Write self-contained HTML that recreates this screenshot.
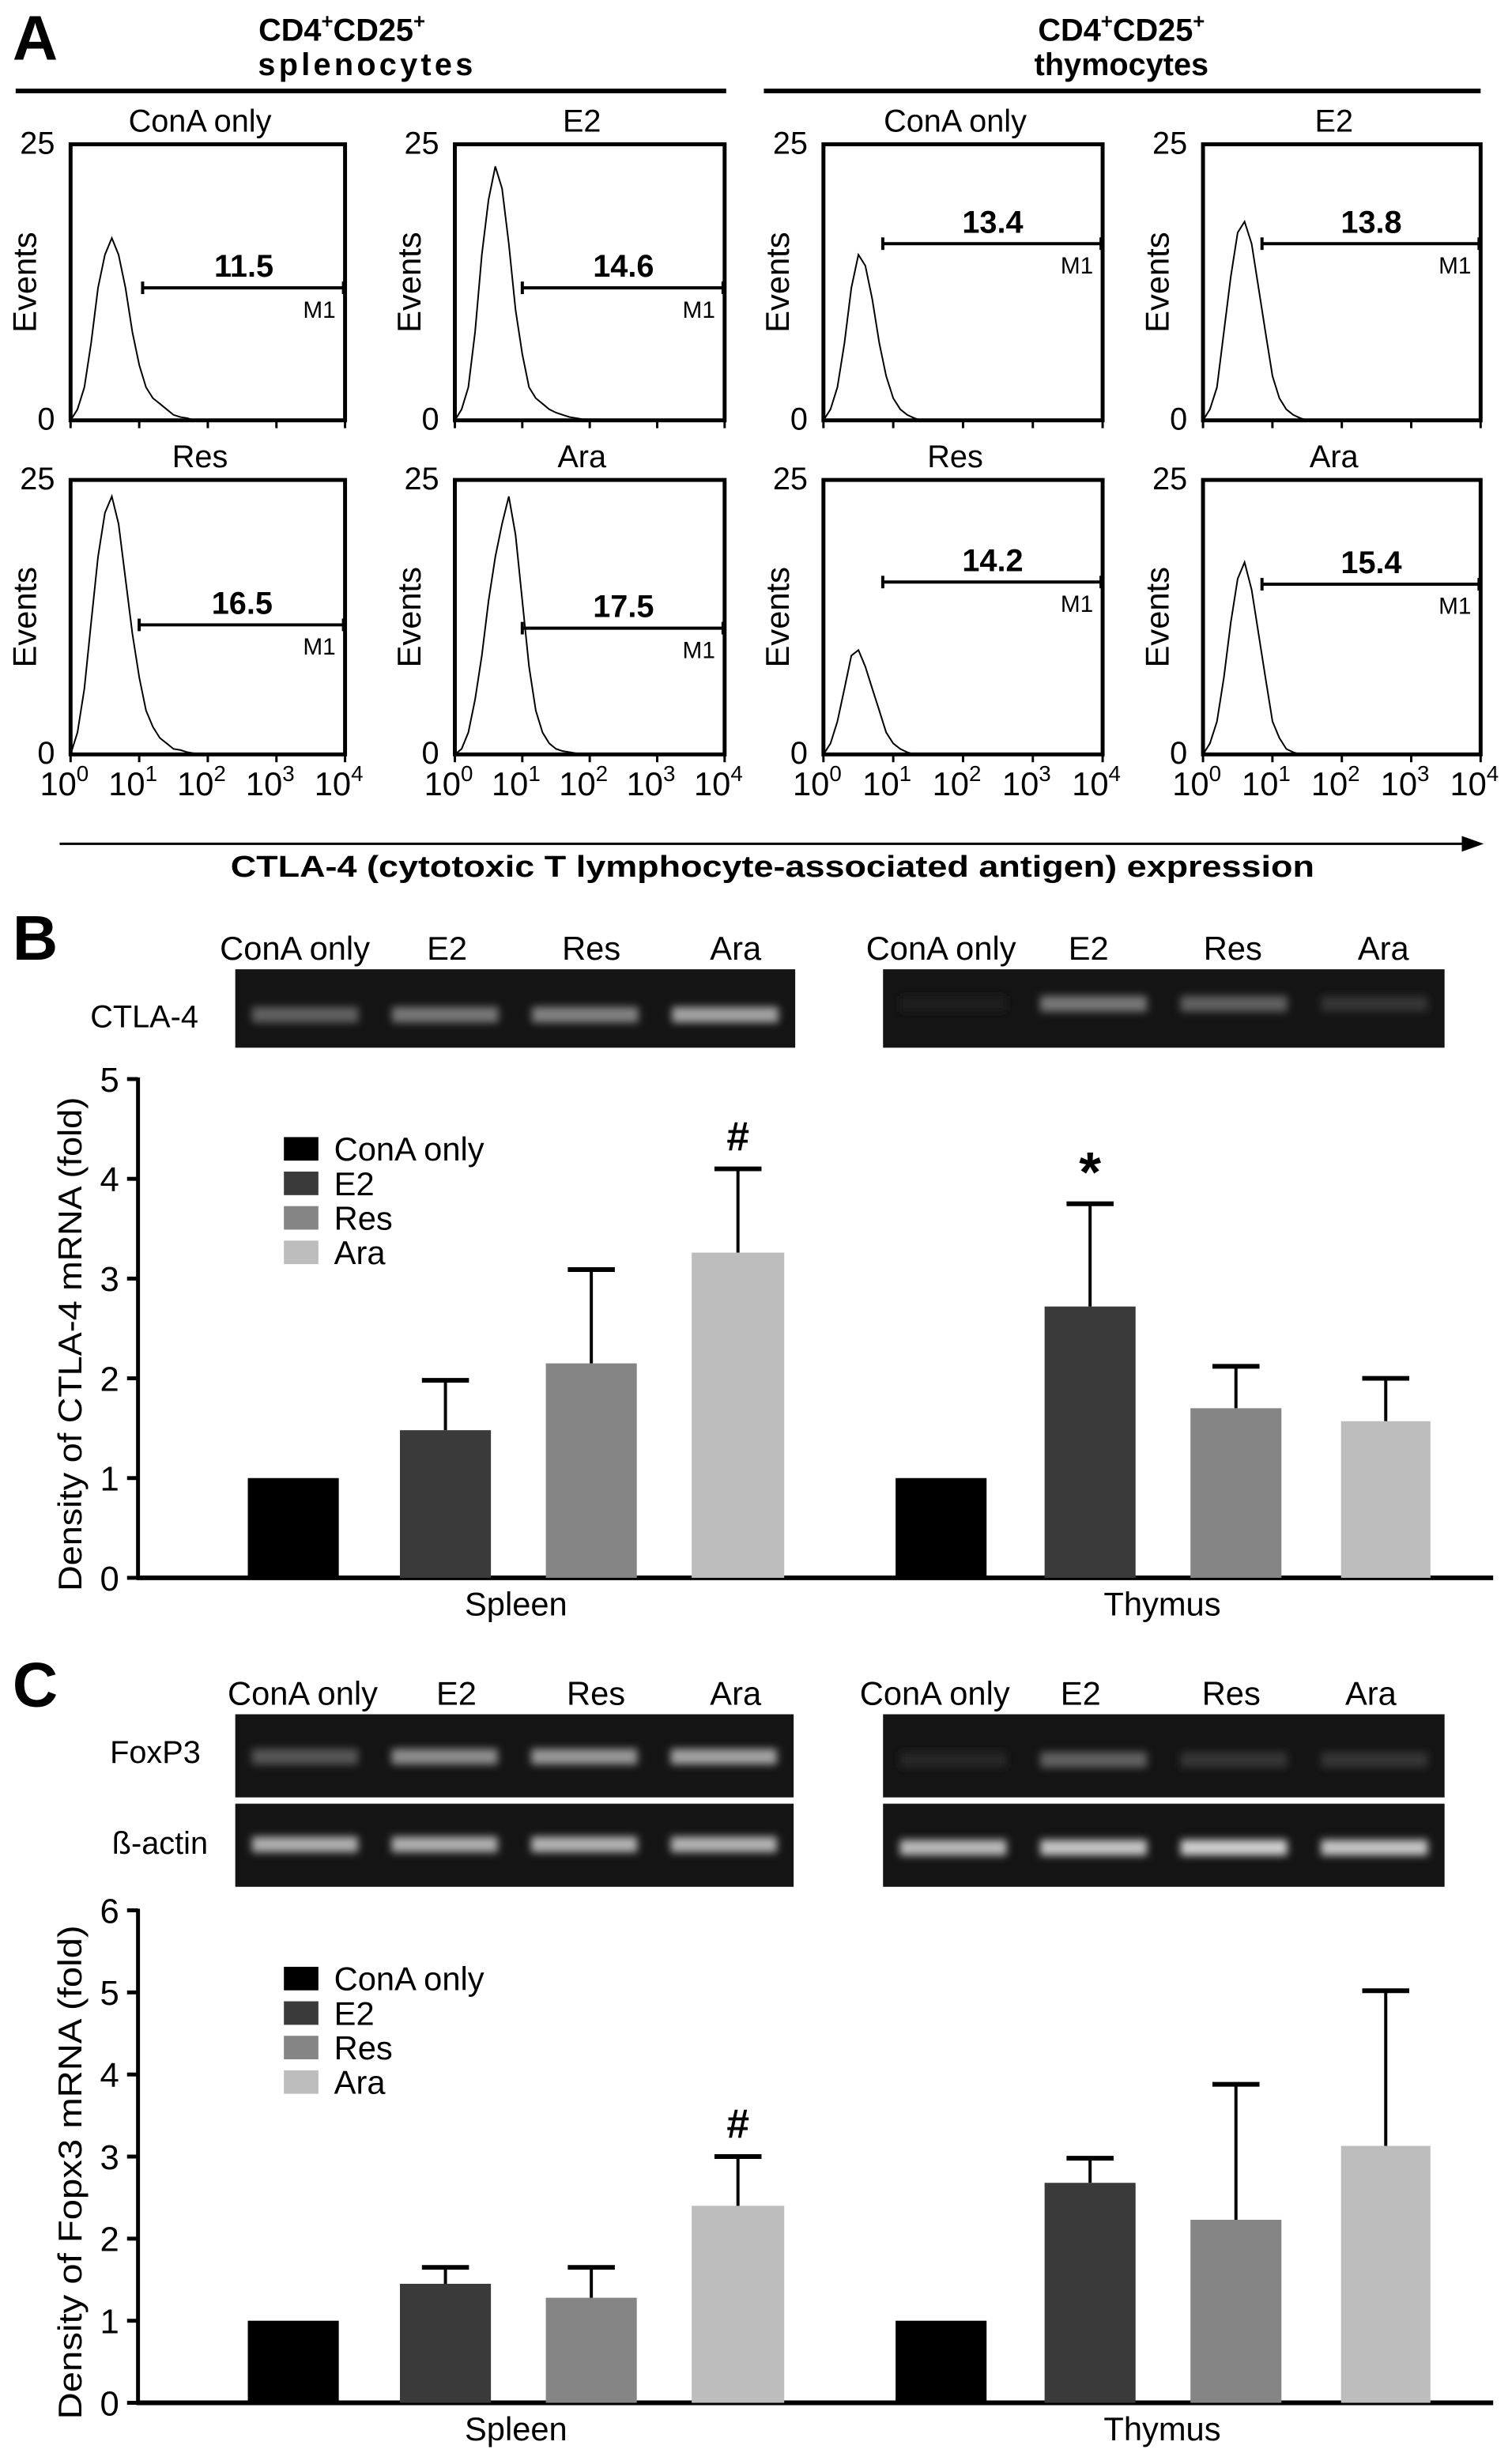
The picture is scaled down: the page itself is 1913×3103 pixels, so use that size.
<!DOCTYPE html>
<html><head><meta charset="utf-8">
<style>
html,body{margin:0;padding:0;background:#fff;}
svg{display:block;}
text{font-family:"Liberation Sans",sans-serif;fill:#000;}
.b{font-family:"Liberation Sans",sans-serif;font-weight:bold;}
.w{font-family:"Liberation Sans",sans-serif;}
</style></head>
<body>
<svg id="fig" width="1913" height="3103" viewBox="0 0 964 1564" preserveAspectRatio="none" xmlns="http://www.w3.org/2000/svg">
<defs>
<filter id="blur" x="-50%" y="-50%" width="200%" height="200%"><feGaussianBlur stdDeviation="2.5"/></filter>
</defs>
<text class="b" x="8" y="38" font-size="40">A</text>
<text class="b" x="218" y="26" font-size="20" text-anchor="middle">CD4<tspan font-size="13" dy="-8">+</tspan><tspan dy="8">CD25</tspan><tspan font-size="13" dy="-8">+</tspan></text>
<text class="b" x="233" y="48" font-size="20" text-anchor="middle" textLength="137">splenocytes</text>
<line x1="10" y1="58" x2="463" y2="58" stroke="#000" stroke-width="3"/>
<text class="b" x="715" y="26" font-size="20" text-anchor="middle">CD4<tspan font-size="13" dy="-8">+</tspan><tspan dy="8">CD25</tspan><tspan font-size="13" dy="-8">+</tspan></text>
<text class="b" x="715" y="48" font-size="20" text-anchor="middle">thymocytes</text>
<line x1="487" y1="58" x2="944" y2="58" stroke="#000" stroke-width="3"/>
<g id="hists"></g>
<line x1="38" y1="538" x2="935" y2="538" stroke="#000" stroke-width="1.5"/>
<polygon points="946,538 932,533 932,543" fill="#000"/>
<text class="b" x="147" y="559" font-size="19" textLength="691" lengthAdjust="spacingAndGlyphs">CTLA-4 (cytotoxic T lymphocyte-associated antigen) expression</text>

<text class="b" x="8" y="612" font-size="40">B</text>
<g id="gelB"></g>
<g id="chartB"></g>
<text class="b" x="8" y="1088" font-size="40">C</text>
<g id="gelC"></g>
<g id="chartC"></g>
</svg>
<script>
// ---------- Panel A histogram data (events at log10 positions 0..2 step 0.1) ----------
const histTitles = ["ConA only","E2","Res","Ara","ConA only","E2","Res","Ara"];
const histPercent = ["11.5","14.6","16.5","17.5","13.4","13.8","14.2","15.4"];
const histSpleenCon = [0,1,3,7,12,15,16.5,15,12,8,5,3,2,1.5,1,0.5,0.3,0.2,0,0,0];
const histSpleenE2  = [0,1,3,8,15,20,23,21,16,10,6,3,2,1.5,1,0.7,0.5,0.3,0.2,0.1,0.1];
const histSpleenRes = [0,2,6,12,18,22,23.5,21,16,11,7,4,2.5,1.5,1,0.5,0.4,0.2,0.1,0,0];
const histSpleenAra = [0,0.5,2,5,9,14,18,21,23.5,20,14,8,4,2,1,0.5,0.3,0.2,0.1,0,0];
const histThyCon = [0,1,3,7,12,15,14,11,7,4,2,1,0.5,0.2,0,0,0,0,0,0,0];
const histThyE2  = [0,1,3,8,13,17,18,16,12,8,4,2,1,0.5,0.2,0,0,0,0,0,0];
const histThyRes = [0,1,3,6,9,9.5,8,6,4,2,1,0.5,0.2,0,0,0,0,0,0,0,0];
const histThyAra = [0,1,3,7,12,16,17.5,15,11,7,3,1.5,0.5,0.2,0,0,0,0,0,0,0];
const gateStartLog = [1.05,1.0,1.0,1.0,0.85,0.85,0.85,0.85];
const gateLevel = [12,12,11.8,11.5,16,16,15.7,15.5];

// ---------- Panel B / C bar data ----------
const groups = ["Spleen","Thymus"];
const treatments = ["ConA only","E2","Res","Ara"];
const ctlaSpleen = [1,1.48,2.15,3.26];
const ctlaSpleenErr = [0,0.5,0.94,0.84];
const ctlaThymus = [1,2.72,1.7,1.57];
const ctlaThymusErr = [0,1.03,0.42,0.43];
const foxSpleen = [1,1.45,1.28,2.4];
const foxSpleenErr = [0,0.2,0.37,0.6];
const foxThymus = [1,2.68,2.23,3.13];
const foxThymusErr = [0,0.3,1.65,1.89];
const ctlaTicks = [0,1,2,3,4,5];
const foxTicks = [0,1,2,3,4,5,6];
const gelCtlaSpleen = [0.35,0.45,0.5,0.65];
const gelCtlaThymus = [0.05,0.45,0.35,0.15];
const gelFoxSpleen = [0.3,0.55,0.6,0.65];
const gelFoxThymus = [0.08,0.35,0.15,0.15];
const gelActSpleen = [0.7,0.7,0.72,0.72];
const gelActThymus = [0.75,0.8,0.85,0.8];

const NS="http://www.w3.org/2000/svg";
function mk(tag, attrs, parent){const e=document.createElementNS(NS,tag);for(const k in attrs)e.setAttribute(k,attrs[k]);if(parent)parent.appendChild(e);return e;}

// ---------- Histograms ----------
const hg=document.getElementById('hists');
const histData=[histSpleenCon,histSpleenE2,histSpleenRes,histSpleenAra,histThyCon,histThyE2,histThyRes,histThyAra];
const boxX=[[45,220],[290,462],[525,703],[767,944]];
const boxY=[[92,268],[306,481]];
const order=[[0,0,0],[1,1,0],[2,0,1],[3,1,1],[4,2,0],[5,3,0],[6,2,1],[7,3,1]];
order.forEach(([i,c,r])=>{
  const [x0,x1]=boxX[c],[y0,y1]=boxY[r];
  const xs=l=>x0+(x1-x0)*l/4, ys=v=>y1-(y1-y0)*v/25;
  const g=mk('g',{},hg);
  
  
  const box=mk('rect',{x:x0,y:y0,width:x1-x0,height:y1-y0,fill:'none',stroke:'#000','stroke-width':2.5},g);
  
  
  const t=mk('text',{x:(x0+x1)/2-5,y:y0-8,'font-size':20,'text-anchor':'middle',class:'w'},g);t.textContent=histTitles[i];
  
  
  const t25=mk('text',{x:x0-10,y:y0+6,'font-size':20,'text-anchor':'end',class:'w'},g);t25.textContent='25';
  
  
  const t0=mk('text',{x:x0-10,y:y1+6,'font-size':20,'text-anchor':'end',class:'w'},g);t0.textContent='0';
  
  
  const ev=mk('text',{x:0,y:0,'font-size':21,'text-anchor':'middle',class:'w',transform:`translate(${x0-22},${(y0+y1)/2}) rotate(-90)`},g);ev.textContent='Events';
  
  
  for(let d=0;d<=4;d++){mk('line',{x1:xs(d),x2:xs(d),y1:y1,y2:y1+5,stroke:'#000','stroke-width':1.5},g);}
  if(r===1){for(let d=0;d<=4;d++){const tl=mk('text',{x:xs(d)-4,y:y1+26,'font-size':21,'text-anchor':'middle',class:'w'},g);tl.innerHTML='10<tspan font-size="14" dy="-9">'+d+'</tspan>';
    
    }}
  const d=histData[i];
  let p='M'+xs(0)+','+y1;
  d.forEach((v,k)=>{p+=' L'+xs(k*0.1).toFixed(1)+','+ys(v).toFixed(1);});
  p+=' L'+xs(4)+','+y1;
  const path=mk('path',{d:p,fill:'none',stroke:'#000','stroke-width':1},g);
  
  
  const gx=xs(gateStartLog[i]),gy=ys(gateLevel[i]);
  mk('line',{x1:gx,x2:x1,y1:gy,y2:gy,stroke:'#000','stroke-width':2},g);
  mk('line',{x1:gx,x2:gx,y1:gy-4,y2:gy+4,stroke:'#000','stroke-width':2},g);
  mk('line',{x1:x1-1,x2:x1-1,y1:gy-4,y2:gy+4,stroke:'#000','stroke-width':2},g);
  const pv=mk('text',{x:(gx+x1)/2,y:gy-7,'font-size':20,'text-anchor':'middle',class:'b'},g);pv.textContent=histPercent[i];
  
  
  const m1=mk('text',{x:x1-6,y:gy+19,'font-size':15,'text-anchor':'end',class:'w'},g);m1.textContent='M1';
  
  
});

// ---------- Gels ----------
function gel(parent,x0,x1,y0,y1,ints,bandY,name){
  const g=mk('g',{},parent);
  
  
  mk('rect',{x:x0,y:y0,width:x1-x0,height:y1-y0,fill:'#141414'},g);
  const lw=(x1-x0)/4;
  ints.forEach((v,k)=>{const c=Math.round(20+v*220);
    mk('rect',{x:x0+lw*k+lw*0.12,y:bandY-5,width:lw*0.76,height:10,fill:`rgb(${c},${c},${c})`,filter:'url(#blur)'},g);});
}
function laneLabels(parent,xs,y,prefix){xs.forEach((x,k)=>{const t=mk('text',{x:x,y:y,'font-size':21,'text-anchor':'middle',class:'w'},parent);t.textContent=treatments[k];
  
  });}
const gB=document.getElementById('gelB');
laneLabels(gB,[188,285,377,469],612,'spleen');
laneLabels(gB,[600,694,786,882],612,'thymus');
gel(gB,150,507,618,668,gelCtlaSpleen,647,'ctla4-gel-spleen');
gel(gB,563,921,618,668,gelCtlaThymus,640,'ctla4-gel-thymus');
{const t=mk('text',{x:92,y:655,'font-size':20,'text-anchor':'middle',class:'w'},gB);t.textContent='CTLA-4';
 }
const gC=document.getElementById('gelC');
laneLabels(gC,[193,291,380,469],1087,'spleen');
laneLabels(gC,[596,689,785,874],1087,'thymus');
gel(gC,150,506,1093,1146,gelFoxSpleen,1120,'foxp3-gel-spleen');
gel(gC,563,921,1093,1146,gelFoxThymus,1122,'foxp3-gel-thymus');
gel(gC,150,506,1150,1203,gelActSpleen,1176,'actin-gel-spleen');
gel(gC,563,921,1150,1203,gelActThymus,1178,'actin-gel-thymus');
{const t=mk('text',{x:99,y:1124,'font-size':20,'text-anchor':'middle',class:'w'},gC);t.textContent='FoxP3';
 
 const t2=mk('text',{x:102,y:1182,'font-size':20,'text-anchor':'middle',class:'w'},gC);t2.textContent='ß-actin';
 }

// ---------- Bar charts ----------
const colors=['#000000','#3a3a3a','#858585','#bdbdbd'];
const barX=[[158,216],[255,313],[348,406],[441,500],[571,629],[666,724],[759,817],[855,912]];
function chart(id,y0px,yTopPx,ticks,sV,sE,tV,tE,title,legY,marks){
  const g=document.getElementById(id);
  const maxV=ticks[ticks.length-1];
  const ys=v=>y0px-(y0px-yTopPx)*v/maxV;
  const ax=88;
  const yaxis=mk('line',{x1:ax,x2:ax,y1:ys(maxV)-1,y2:y0px,stroke:'#000','stroke-width':2.5},g);
  
  
  const xaxis=mk('line',{x1:ax-1,x2:952,y1:y0px,y2:y0px,stroke:'#000','stroke-width':3},g);
  
  
  ticks.forEach(v=>{mk('line',{x1:ax-7,x2:ax,y1:ys(v),y2:ys(v),stroke:'#000','stroke-width':2.5},g);
    const t=mk('text',{x:ax-12,y:ys(v)+8,'font-size':22,'text-anchor':'end'},g);t.textContent=v;
    
    });
  const yt=mk('text',{x:0,y:0,'font-size':21,'text-anchor':'middle',class:'w',textLength:315,lengthAdjust:'spacingAndGlyphs',transform:`translate(52,${(y0px+ys(maxV))/2+10}) rotate(-90)`},g);yt.textContent=title;
  
  
  const vals=sV.concat(tV), errs=sE.concat(tE);
  vals.forEach((v,k)=>{const [a,b]=barX[k];
    const r=mk('rect',{x:a,y:ys(v),width:b-a,height:y0px-ys(v),fill:colors[k%4]},g);
    
    
    if(errs[k]>0){const m=(a+b)/2,top=ys(v+errs[k]);
      const eb=mk('line',{x1:m,x2:m,y1:ys(v),y2:top,stroke:'#000','stroke-width':2},g);
      
      
      mk('line',{x1:m-15,x2:m+15,y1:top,y2:top,stroke:'#000','stroke-width':3},g);}
  });
  groups.forEach((gn,k)=>{const t=mk('text',{x:k?741:329,y:y0px+24,'font-size':21,'text-anchor':'middle'},g);t.textContent=gn;
    
    });
  treatments.forEach((tn,k)=>{
    const sq=mk('rect',{x:181,y:legY+k*22-8,width:22,height:15,fill:colors[k]},g);
    
    
    const t=mk('text',{x:213,y:legY+k*22+7,'font-size':21},g);t.textContent=tn;
    
    });
  marks.forEach(([k,sym])=>{const [a,b]=barX[k];const v=vals[k]+errs[k];
    const t=mk('text',{x:(a+b)/2,y:ys(v)-(sym==='*'?-2:12),'font-size':sym==='*'?36:26,'text-anchor':'middle',class:'b'},g);
    if(sym==='*')t.setAttribute('y',ys(v)-12+4);
    t.textContent=sym;
    
    });
}
chart('chartB',1006,688,ctlaTicks,ctlaSpleen,ctlaSpleenErr,ctlaThymus,ctlaThymusErr,'Density of CTLA-4 mRNA (fold)',733,[[3,'#'],[5,'*']]);
chart('chartC',1532,1218,foxTicks,foxSpleen,foxSpleenErr,foxThymus,foxThymusErr,'Density of Fopx3 mRNA (fold)',1262,[[3,'#']]);
</script>
</body></html>
